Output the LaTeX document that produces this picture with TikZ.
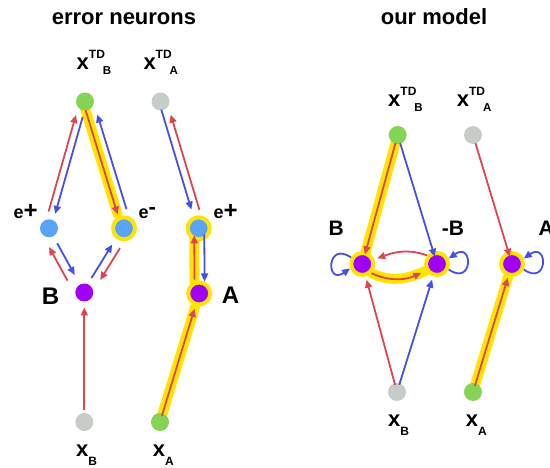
\documentclass[tikz,border=0pt]{standalone}
\usepackage{fontspec}
\setmainfont{Liberation Sans}
\usetikzlibrary{arrows.meta,calc,backgrounds}
\definecolor{myred}{RGB}{222,68,82}
\definecolor{myblue}{RGB}{68,80,230}
\definecolor{mygreen}{RGB}{134,212,86}
\definecolor{mygray}{RGB}{200,204,200}
\definecolor{myltblue}{RGB}{90,164,248}
\definecolor{mypurple}{RGB}{160,0,245}
\definecolor{myyellow}{RGB}{255,228,0}
\newcommand\parr[6]{\draw[#1,shorten <=#5,shorten >=#6] ($(#2)!#4!90:(#3)$) -- ($(#3)!#4!-90:(#2)$);}
\newcommand\pband[5]{\draw[hl,shorten <=#4,shorten >=#5] ($(#1)!#3!90:(#2)$) -- ($(#2)!#3!-90:(#1)$);}
\newcommand\xtd[1]{{\fontsize{22}{22}\selectfont x}\raisebox{11pt}{\fontsize{12}{12}\selectfont TD}\kern-2pt\raisebox{-5pt}{\fontsize{11.5}{11.5}\selectfont #1}}
\newcommand\xsub[1]{{\fontsize{22}{22}\selectfont x}\raisebox{-8.5pt}{\fontsize{12}{12}\selectfont #1}}
\newcommand\eplus{{\fontsize{18}{18}\selectfont e}{\fontsize{24}{24}\selectfont +}}
\newcommand\eminus{{\fontsize{18}{18}\selectfont e}\raisebox{4pt}{\fontsize{22}{22}\selectfont -}}
\begin{document}
\begin{tikzpicture}[x=1pt,y=-1pt,
  ra/.style={draw=myred,line width=1.8pt,-{Triangle[length=8pt,width=7pt]}},
  ba/.style={draw=myblue,line width=1.8pt,-{Triangle[length=8pt,width=7pt]}},
  hl/.style={draw=myyellow,line width=10pt,line cap=round},
  dot/.style={circle,minimum size=18pt,inner sep=0pt},
  ringdot/.style={circle,minimum size=22pt,inner sep=0pt,draw=myyellow,line width=4pt},
  lab/.style={anchor=base west,inner sep=0pt,font=\bfseries},
  title/.style={anchor=base,inner sep=0pt,font=\bfseries\fontsize{22}{22}\selectfont}]
\useasboundingbox (0,0) rectangle (550,468);

% titles
\node[title] (t1) at (124,25) {error neurons};
\node[title] (t2) at (434,25) {our model};

% ---------- left panel nodes ----------
\node[dot,fill=mygreen] (LTB) at (85,101.5) {};
\node[dot,fill=mygray] (LTA) at (160.5,101.5) {};
\node[dot,fill=myltblue] (Lep) at (49,228.3) {};
\node[ringdot,fill=myltblue] (Lem) at (124,228.3) {};
\node[ringdot,fill=myltblue] (Lep2) at (198.7,228.3) {};
\node[dot,fill=mypurple] (LB) at (84.3,292.5) {};
\node[ringdot,fill=mypurple] (LA) at (199.2,293.5) {};
\node[dot,fill=mygray] (LxB) at (84.3,422) {};
\node[dot,fill=mygreen] (LxA) at (160,422) {};

% left labels
\node[lab] (lTB) at (76.5,69.5) {\xtd{B}};
\node[lab] (lTA) at (143.3,69.5) {\xtd{A}};
\node[lab] (lep) at (13.3,219) {\eplus};
\node[lab] (lem) at (138.3,219) {\eminus};
\node[lab] (lep2) at (213.3,219) {\eplus};
\node[lab,font=\bfseries\fontsize{24}{24}\selectfont] (lB) at (41.7,304.3) {B};
\node[lab,font=\bfseries\fontsize{24}{24}\selectfont] (lA) at (221.7,303.5) {A};
\node[lab] (lxB) at (76,456.7) {\xsub{B}};
\node[lab] (lxA) at (152.7,456.7) {\xsub{A}};

% ---------- right panel nodes ----------
\node[dot,fill=mygreen] (RTB) at (397.7,135) {};
\node[dot,fill=mygray] (RTA) at (473,135) {};
\node[ringdot,fill=mypurple] (RB) at (362.3,264) {};
\node[ringdot,fill=mypurple] (RmB) at (437,264) {};
\node[ringdot,fill=mypurple] (RA) at (512,264) {};
\node[dot,fill=mygray] (RxB) at (397,392) {};
\node[dot,fill=mygreen] (RxA) at (473,392) {};

% right labels
\node[lab] (rTB) at (388,106.7) {\xtd{B}};
\node[lab] (rTA) at (456.7,106.7) {\xtd{A}};
\node[lab,font=\bfseries\fontsize{21}{21}\selectfont] (rB) at (328.3,236) {B};
\node[lab,font=\bfseries\fontsize{21}{21}\selectfont] (rmB) at (441.7,236) {-B};
\node[lab,font=\bfseries\fontsize{21}{21}\selectfont] (rA) at (538.3,236) {A};
\node[lab] (rxB) at (388,426.7) {\xsub{B}};
\node[lab] (rxA) at (465.7,426.7) {\xsub{A}};

% ---------- highlight bands ----------
\begin{scope}[on background layer]
  \pband{LTB}{Lem}{-2pt}{5pt}{15pt}
  \pband{LA}{Lep2}{4.5pt}{5pt}{8pt}
  \draw[hl,shorten <=3pt,shorten >=14pt] (LxA.center) -- (LA.center);
  \draw[hl,shorten <=3pt,shorten >=11pt] (RTB.center) -- (RB.center);
  \draw[hl] (RB.-45) to[out=-25,in=205] (RmB.211);
  \draw[hl,shorten <=3pt,shorten >=12pt] (RxA.center) -- (RA.center);
\end{scope}

% ---------- left arrows ----------
\parr{ra}{Lep}{LTB}{5pt}{16pt}{15.5pt}
\parr{ba}{LTB}{Lep}{2pt}{15.5pt}{15.5pt}
\parr{ra}{LTB}{Lem}{-2pt}{8.5pt}{15pt}
\parr{ba}{Lem}{LTB}{-8pt}{17.5pt}{16pt}
\parr{ba}{LTA}{Lep2}{-1.6pt}{8pt}{20pt}
\parr{ra}{Lep2}{LTA}{-6pt}{17.5pt}{15.5pt}
\parr{ra}{LA}{Lep2}{4.5pt}{14pt}{7pt}
\parr{ba}{Lep2}{LA}{5.5pt}{6pt}{12pt}
\parr{ra}{LB}{Lep}{9pt}{18.5pt}{16.5pt}
\parr{ba}{Lep}{LB}{0pt}{17pt}{20pt}
\parr{ba}{LB}{Lem}{1.5pt}{16pt}{20pt}
\parr{ra}{Lem}{LB}{7pt}{19pt}{19pt}
\draw[ra,shorten <=12pt,shorten >=15pt] (LxB.center) -- (LB.center);
\draw[ra,shorten <=6.5pt,shorten >=16pt] (LxA.center) -- (LA.center);

% ---------- right arrows ----------
\draw[ra,shorten <=8.3pt,shorten >=10pt] (RTB.center) -- (RB.center);
\draw[ba,shorten <=8.6pt,shorten >=7.6pt] (RTB.center) -- (RmB.center);
\draw[ra,shorten <=8.6pt,shorten >=7.6pt] (RTA.center) -- (RA.center);
\draw[ra,shorten <=7.3pt,shorten >=16.3pt] (RxB.center) -- (RB.center);
\draw[ba,shorten <=7.6pt,shorten >=16.4pt] (RxB.center) -- (RmB.center);
\draw[ra,shorten <=6.5pt,shorten >=14.4pt] (RxA.center) -- (RA.center);
\draw[ra,shorten >=3pt] (RmB.139) to[out=160,in=20] (RB.21);
\draw[ra,shorten >=5pt] (RB.-45) to[out=-25,in=205] (RmB.211);
\draw[ba] (RB.150) .. controls +(145:30pt) and +(215:30pt) .. (RB.200);
\draw[ba] (RmB.-25) .. controls +(-35:30pt) and +(35:30pt) .. (RmB.25);
\draw[ba] (RA.-25) .. controls +(-35:30pt) and +(35:30pt) .. (RA.25);
\end{tikzpicture}
\end{document}
